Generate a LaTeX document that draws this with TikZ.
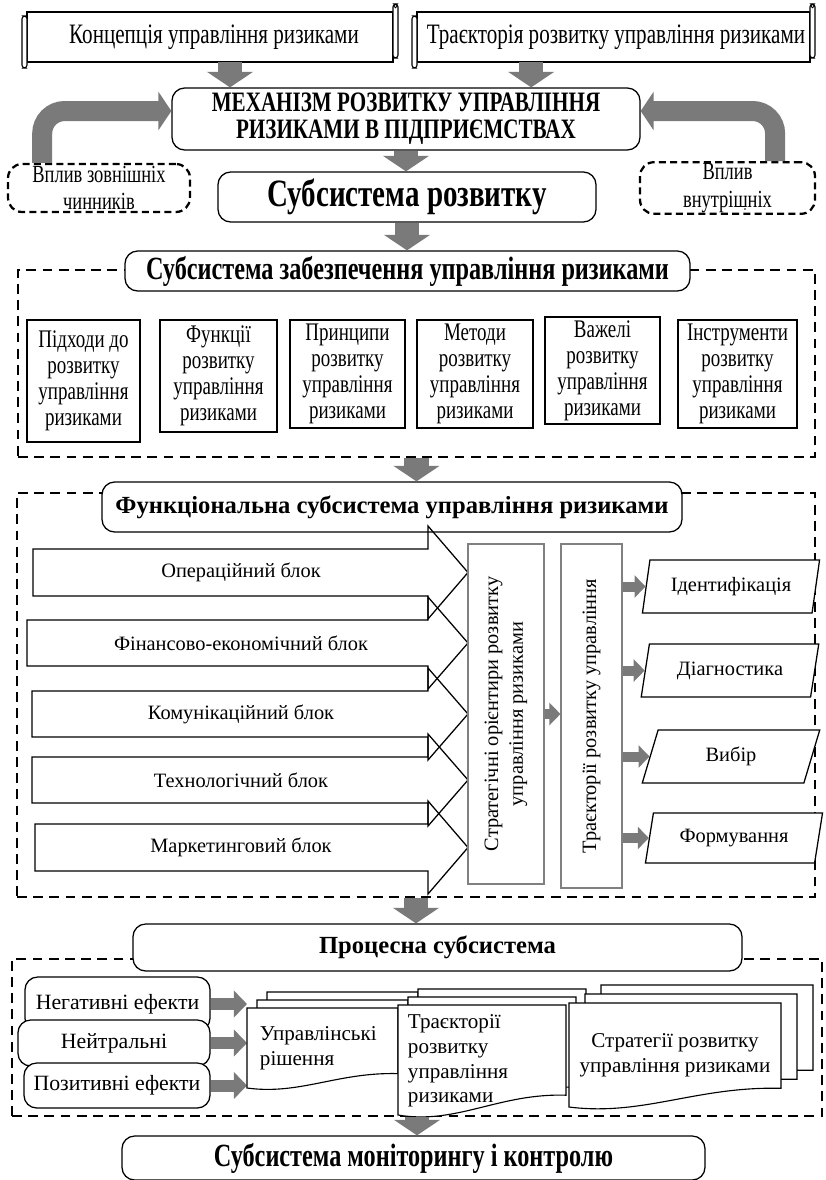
\documentclass[tikz,border=0pt]{standalone}
\usepackage{fontspec}
\setmainfont{Liberation Serif}
\newfontfamily\narrowfont[FakeStretch=0.75]{Liberation Serif}
\usepackage{tikz}
\usetikzlibrary{arrows.meta,shapes.geometric,positioning}
\definecolor{arrgray}{RGB}{122,122,122}
\definecolor{boxgray}{RGB}{128,128,128}
\newcommand{\scroll}[4]{%
 \draw[line width=0.8pt,fill=white] ({#1+5},#2) rectangle ({#3-5},#4);
 \draw[line width=0.8pt,fill=white,rounded corners=2pt] (#1,{#2+4}) rectangle ({#1+5},{#4+6});
 \draw[line width=0.8pt,fill=white,rounded corners=2pt] ({#3-5},{#2-8}) rectangle (#3,{#4-4});
 \draw[line width=0.6pt] ({#3-2.5},{#2-6}) circle (1.3pt);}
\newcommand{\docpage}[4]{%
 \draw[line width=0.8pt,fill=white] (#1,#2) -- ({#1+#3},#2) -- ({#1+#3},{#2+0.82*#4})
  .. controls ({#1+0.6*#3},{#2+0.8*#4}) and ({#1+0.35*#3},{#2+1.09*#4}) .. (#1,{#2+#4}) -- cycle;}
\newcommand{\docstack}[6]{%
 \docpage{#1+2*#5}{#2-2*#6}{#3}{#4}
 \docpage{#1+#5}{#2-#6}{#3}{#4}
 \docpage{#1}{#2}{#3}{#4}}

\begin{document}
\begin{tikzpicture}[x=0.025cm,y=-0.025cm,
  wh/.style 2 args={minimum width=#1*0.025cm,minimum height=#2*0.025cm,inner sep=1pt},
  rbox/.style={draw,line width=0.9pt,fill=white,rounded corners=9pt},
  sqbox/.style={draw,line width=0.8pt,fill=white},
  grbox/.style={draw=boxgray,line width=0.8pt,fill=white},
  dashbox/.style={draw,line width=1.6pt,dash pattern=on 5pt off 3pt,rounded corners=10pt},
  dashframe/.style={draw,line width=1.5pt,dash pattern=on 7pt off 4.5pt},
  slantbox/.style={trapezium,trapezium left angle=75,trapezium right angle=105,trapezium stretches=true,draw,line width=0.9pt,fill=white},
  bigarr/.style={line width=#1,arrgray,-{Triangle[width=0pt 1.9,length=0pt 0.65]}},
  smallarr/.style={line width=#1,arrgray,-{Triangle[width=0pt 2.2,length=0pt 1.1]}},
  ftop/.style={font=\narrowfont\fontsize{20}{23}\selectfont},
  fside/.style={font=\narrowfont\fontsize{17.5}{19.5}\selectfont},
  fmech/.style={font=\narrowfont\bfseries\fontsize{20}{19}\selectfont},
  fhead/.style={font=\narrowfont\bfseries\fontsize{27.5}{29}\selectfont},
  ffinal/.style={font=\narrowfont\bfseries\fontsize{23}{25}\selectfont},
  fzab/.style={font=\narrowfont\bfseries\fontsize{23}{25}\selectfont},
  ftitle/.style={font=\bfseries\fontsize{17.5}{20}\selectfont},
  fsix/.style={font=\narrowfont\fontsize{18}{18.5}\selectfont},
  fmid/.style={font=\fontsize{14.5}{17.5}\selectfont},
  fleft/.style={font=\fontsize{15.5}{18}\selectfont},
  fdoc/.style={font=\fontsize{15}{17.5}\selectfont}]
\useasboundingbox (0,0) rectangle (825,1180);

\scroll{22}{12}{398}{62}
\node[ftop,wh={376}{50}] (koncep) at (214,37) {Концепція управління ризиками};
\scroll{412}{12}{815}{62}
\node[ftop,wh={403}{50}] (traek) at (616,37) {Траєкторія розвитку управління ризиками};
\node[rbox,fmech,wh={468}{62},align=center] (mech) at (406,119) {МЕХАНІЗМ РОЗВИТКУ УПРАВЛІННЯ\\РИЗИКАМИ В ПІДПРИЄМСТВАХ};
\draw[bigarr=0.6cm] ([xshift=0.4cm]koncep.south) -- ([xshift=0.4cm]koncep.south |- mech.north);
\draw[bigarr=0.6cm] ([xshift=-2.12cm]traek.south) -- ([xshift=-2.12cm]traek.south |- mech.north);
\node[dashbox,fside,wh={182}{48},align=center] (zovn) at (99,188) {Вплив зовнішніх\\чинників};
\node[dashbox,fside,wh={175}{48},align=center] (vnutr) at (727.5,188) {Вплив\\внутрішніх};
\fill (745,209) circle (0.6pt);
\draw[bigarr=0.5cm,rounded corners=16pt] ([xshift=-1.42cm]zovn.north) |- ([yshift=0.2cm]mech.west);
\draw[bigarr=0.5cm,rounded corners=16pt] ([xshift=1.19cm]vnutr.north) |- ([yshift=0.2cm]mech.east);
\node[rbox,fhead,wh={378}{50}] (rozv) at (407,197) {Субсистема розвитку};
\draw[bigarr=0.6cm] (mech.south) -- (mech.south |- rozv.north);

\node[dashframe,wh={797}{187}] (fr2) at (416.5,363.5) {};
\node[rbox,fzab,wh={565}{40}] (zab) at (407.5,271) {Субсистема забезпечення управління ризиками};
\draw[bigarr=0.6cm] (rozv.south) -- (rozv.south |- zab.north);
\node[sqbox,fsix,wh={113}{122},align=center] (pidh) at (83.5,381) {Підходи до\\розвитку\\управління\\ризиками};
\node[sqbox,fsix,wh={117}{112},align=center] (funk) at (218.5,376) {Функції\\розвитку\\управління\\ризиками};
\node[sqbox,fsix,wh={115}{108},align=center] (prin) at (347.5,374) {Принципи\\розвитку\\управління\\ризиками};
\node[sqbox,fsix,wh={116}{108},align=center] (meto) at (475,374) {Методи\\розвитку\\управління\\ризиками};
\node[sqbox,fsix,wh={115}{107},align=center] (vazh) at (602.5,370.5) {Важелі\\розвитку\\управління\\ризиками};
\node[sqbox,fsix,wh={119}{108},align=center] (instr) at (737.5,374) {Інструменти\\розвитку\\управління\\ризиками};

\node[dashframe,wh={798}{404}] (fr3) at (416,695) {};
\node[rbox,ftitle,wh={580}{50}] (fun) at (392,507) {Функціональна субсистема управління ризиками};
\draw[bigarr=0.6cm] (fr2.south) -- (fr2.south |- fun.north);
\draw[line width=0.9pt] (33,549) -- (428,549) -- (428,526) -- (468,572.5) -- (428,619) -- (428,596) -- (33,596) -- cycle;
\node[fmid] (oper) at (241,572.5) {Операційний блок};
\draw[line width=0.9pt] (27,620) -- (428,620) -- (428,597) -- (468,643) -- (428,689) -- (428,666) -- (27,666) -- cycle;
\node[fmid] (fin) at (241,643) {Фінансово-економічний блок};
\draw[line width=0.9pt] (32,691) -- (428,691) -- (428,668) -- (468,714) -- (428,760) -- (428,737) -- (32,737) -- cycle;
\node[fmid] (komun) at (241,714) {Комунікаційний блок};
\draw[line width=0.9pt] (32,757) -- (428,757) -- (428,734) -- (468,780) -- (428,826) -- (428,803) -- (32,803) -- cycle;
\node[fmid] (tehn) at (241,780) {Технологічний блок};
\draw[line width=0.9pt] (35,824) -- (428,824) -- (428,801) -- (468,847.5) -- (428,894) -- (428,871) -- (35,871) -- cycle;
\node[fmid] (mark) at (241,847.5) {Маркетинговий блок};
\node[grbox,fmid,rotate=90,wh={340}{76},align=center] (strat) at (506,714) {Стратегічні орієнтири розвитку\\управління ризиками};
\node[grbox,fmid,rotate=90,wh={344}{61}] (trajbox) at (591.5,716) {Траєкторії розвитку управління};
\draw[smallarr=0.25cm] (strat.south) -- (strat.south -| trajbox.north);
\node[slantbox,fmid,wh={178}{53}] (ident) at (731,586.5) {Ідентифікація};
\node[slantbox,fmid,wh={178}{53}] (diagn) at (730,670.5) {Діагностика};
\node[slantbox,fmid,wh={178}{53}] (vybir) at (731,756.5) {Вибір};
\node[slantbox,fmid,wh={178}{50}] (form) at (734,838) {Формування};
\draw[smallarr=0.25cm] (trajbox.south |- ident.west) -- (ident.west);
\draw[smallarr=0.25cm] (trajbox.south |- diagn.west) -- (diagn.west);
\draw[smallarr=0.25cm] (trajbox.south |- vybir.west) -- (vybir.west);
\draw[smallarr=0.25cm] (trajbox.south |- form.west) -- (form.west);

\node[dashframe,wh={810}{157}] (fr4) at (417,1037.5) {};
\node[rbox,ftitle,wh={609}{47}] (proc) at (437.5,947.5) {Процесна субсистема};
\draw[bigarr=0.6cm] (fr3.south) -- (fr3.south |- proc.north);
\node[rbox,fleft,wh={185}{54}] (neg) at (117.5,1004) {Негативні ефекти};
\node[rbox,fleft,wh={192}{46}] (neutr) at (114,1043) {Нейтральні};
\node[rbox,fleft,wh={186}{45}] (pozyt) at (117,1085.5) {Позитивні ефекти};
\coordinate (docin) at (247,1040);
\draw[smallarr=0.3cm] (neg.east) -- (neg.east -| docin);
\draw[smallarr=0.3cm] (neutr.east) -- (neutr.east -| docin);
\draw[smallarr=0.3cm] (pozyt.east) -- (pozyt.east -| docin);
\docstack{247}{1008}{151}{80}{10}{8}
\node[fdoc,align=left,anchor=west] (rish) at (255,1048) {Управлінські\\рішення};
\docstack{398}{1005}{168}{110}{10}{8}
\node[fdoc,align=left,anchor=west] (trajdoc) at (403,1061) {Траєкторії\\розвитку\\управління\\ризиками};
\docstack{569}{1003}{212}{104}{16}{9}
\node[fdoc,align=center] (stratdoc) at (675,1055) {Стратегії розвитку\\управління ризиками};

\node[rbox,ffinal,wh={583}{44}] (monit) at (413.5,1158) {Субсистема моніторингу і контролю};
\draw[bigarr=0.6cm] (fr4.south) -- (fr4.south |- monit.north);
\end{tikzpicture}
\end{document}
